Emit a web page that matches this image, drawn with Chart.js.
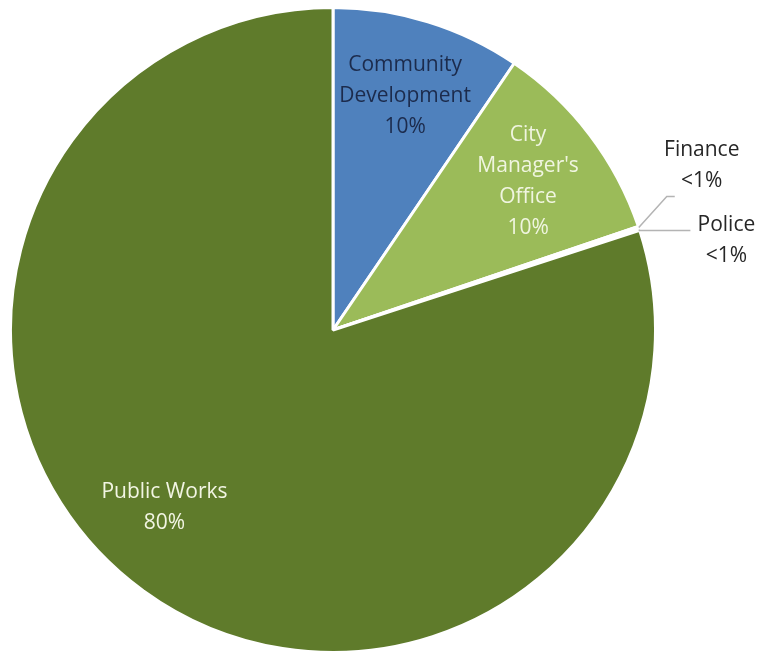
<!DOCTYPE html>
<html>
<head>
<meta charset="utf-8">
<script src="https://cdn.jsdelivr.net/npm/chart.js@4/dist/chart.umd.min.js"></script>
<style>
  body { margin: 0; background: #fff; }
  canvas { display: block; }
</style>
</head>
<body>
<canvas id="pie" width="760" height="654"></canvas>
<script>
// Departments, clockwise from 12 o'clock
const departments = ['Community Development', 'City Manager\'s Office', 'Finance', 'Police', 'Public Works'];
const shares = [9.5, 10.3, 0.1, 0.1, 80.0];
const shareLabels = ['10%', '10%', '<1%', '<1%', '80%'];
// how each label is wrapped, like in the original
const labelLines = [
  ['Community', 'Development'],
  ['City', 'Manager\'s', 'Office'],
  ['Finance'],
  ['Police'],
  ['Public Works']
];
const sliceColors = ['#4f81bd', '#9bbb59', '#4f81bd', '#c0504d', '#5f7b2b'];
const textColors = ['#1c2b4c', '#f0f5e0', '#262626', '#262626', '#f2f5e3'];

const FONT = '21px "Open Sans", "Noto Sans", sans-serif';
const LINE_H = 31;

// draws the data labels, inside ones on the slice, tiny slices outside with a leader line
const labelPlugin = {
  id: 'sliceLabels',
  afterDatasetsDraw(chart, args, opts) {
    const ctx = chart.ctx;
    const arcs = chart.getDatasetMeta(0).data;
    ctx.save();
    ctx.font = FONT;
    ctx.textAlign = 'center';
    ctx.textBaseline = 'middle';
    arcs.forEach((arc, i) => {
      const lines = labelLines[i].concat([shareLabels[i]]);
      const mid = (arc.startAngle + arc.endAngle) / 2 + (opts.angleShift[i] || 0);
      const r = arc.outerRadius;
      let cx, cy;
      const out = opts.outside[i];
      if (out) {
        // leader line from the edge of the slice
        const ex = arc.x + Math.cos(mid) * r;
        const ey = arc.y + Math.sin(mid) * r;
        const kx = ex + out.kx, ky = ey + out.ky;
        const lx = kx + out.hx;
        ctx.strokeStyle = '#b4b4b4';
        ctx.lineWidth = 1.5;
        ctx.beginPath();
        ctx.moveTo(ex, ey);
        ctx.lineTo(kx, ky);
        ctx.lineTo(lx, ky);
        ctx.stroke();
        cx = lx + out.tx;
        cy = ky + out.ty;
      } else {
        cx = arc.x + Math.cos(mid) * r * opts.radial;
        cy = arc.y + Math.sin(mid) * r * opts.radial;
      }
      ctx.fillStyle = textColors[i];
      const top = cy - (lines.length - 1) * LINE_H / 2;
      lines.forEach((t, j) => ctx.fillText(t, cx, top + j * LINE_H));
    });
    ctx.restore();
  }
};

new Chart(document.getElementById('pie'), {
  type: 'pie',
  data: {
    labels: departments,
    datasets: [{
      data: shares,
      backgroundColor: sliceColors,
      borderColor: '#ffffff',
      borderWidth: 3
    }]
  },
  options: {
    responsive: false,
    animation: false,
    layout: { padding: { left: 9, right: 103, top: 6, bottom: 0 } },
    plugins: {
      legend: { display: false },
      tooltip: { enabled: false },
      sliceLabels: {
        radial: 0.76,
        angleShift: [0, 0, 0, 0, 0.13],
        outside: [
          null,
          null,
          { kx: 28, ky: -31, hx: 8, tx: 27, ty: -31 },
          { kx: 0, ky: 1, hx: 51, tx: 36, ty: 10 },
          null
        ]
      }
    }
  },
  plugins: [labelPlugin]
});
</script>
</body>
</html>
